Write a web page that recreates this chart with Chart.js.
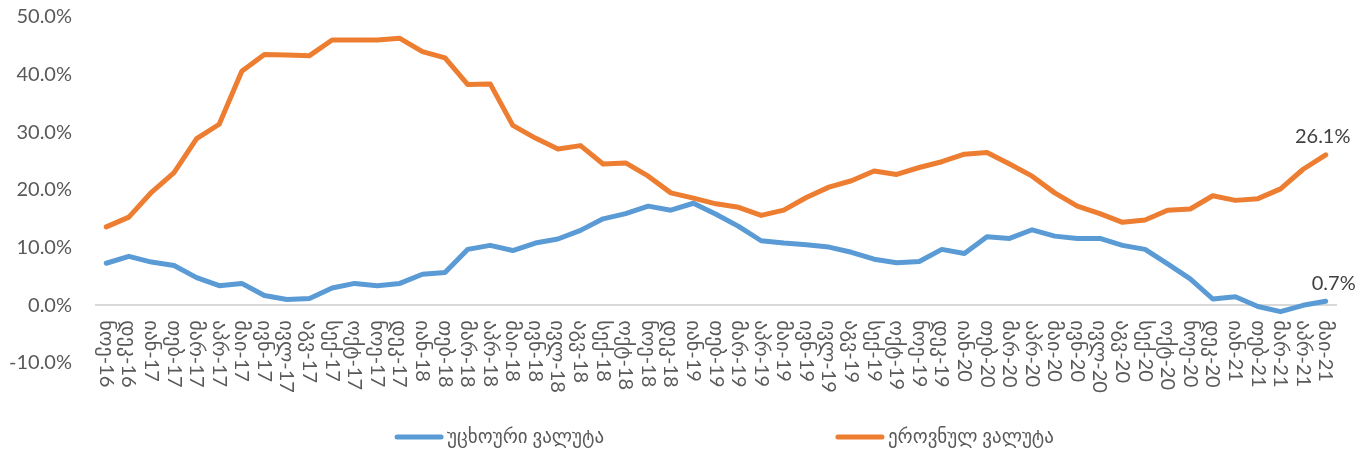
<!DOCTYPE html>
<html>
<head>
<meta charset="utf-8">
<script src="https://cdn.jsdelivr.net/npm/chart.js@4"></script>
<style>
  html, body { margin: 0; padding: 0; background: #fff; }
  #wrap { width: 1367px; height: 459px; }
</style>
</head>
<body>
<div id="wrap"><canvas id="dollarChart" width="1367" height="459"></canvas></div>
<script>
const monthLabels = [
    'ნოე-16', 'დეკ-16',
    'იან-17', 'თებ-17', 'მარ-17', 'აპრ-17', 'მაი-17', 'ივნ-17', 'ივლ-17', 'აგვ-17', 'სექ-17', 'ოქტ-17', 'ნოე-17', 'დეკ-17',
    'იან-18', 'თებ-18', 'მარ-18', 'აპრ-18', 'მაი-18', 'ივნ-18', 'ივლ-18', 'აგვ-18', 'სექ-18', 'ოქტ-18', 'ნოე-18', 'დეკ-18',
    'იან-19', 'თებ-19', 'მარ-19', 'აპრ-19', 'მაი-19', 'ივნ-19', 'ივლ-19', 'აგვ-19', 'სექ-19', 'ოქტ-19', 'ნოე-19', 'დეკ-19',
    'იან-20', 'თებ-20', 'მარ-20', 'აპრ-20', 'მაი-20', 'ივნ-20', 'ივლ-20', 'აგვ-20', 'სექ-20', 'ოქტ-20', 'ნოე-20', 'დეკ-20',
    'იან-21', 'თებ-21', 'მარ-21', 'აპრ-21', 'მაი-21'
];

const foreignCurrency = [
    7.3, 8.5, 7.5, 6.9, 4.8, 3.4, 3.8, 1.7, 1.0, 1.2,
    3.0, 3.8, 3.4, 3.8, 5.4, 5.7, 9.7, 10.4, 9.5, 10.8,
    11.5, 13.0, 15.0, 15.9, 17.2, 16.5, 17.7, 15.8, 13.7, 11.2,
    10.8, 10.5, 10.1, 9.2, 8.0, 7.4, 7.6, 9.7, 9.0, 11.9,
    11.6, 13.1, 12.0, 11.6, 11.6, 10.4, 9.7, 7.2, 4.6, 1.1,
    1.5, -0.2, -1.1, 0.0, 0.7
];

const nationalCurrency = [
    13.6, 15.3, 19.6, 23.0, 28.9, 31.4, 40.6, 43.5, 43.4, 43.3,
    46.0, 46.0, 46.0, 46.3, 44.0, 42.9, 38.3, 38.4, 31.2, 29.0,
    27.1, 27.7, 24.5, 24.7, 22.4, 19.5, 18.6, 17.6, 17.0, 15.6,
    16.5, 18.7, 20.5, 21.6, 23.3, 22.7, 23.9, 24.9, 26.2, 26.5,
    24.5, 22.4, 19.5, 17.2, 15.9, 14.4, 14.8, 16.5, 16.7, 19.0,
    18.2, 18.5, 20.2, 23.6, 26.1
];

const seriesNames = ['უცხოური ვალუტა', 'ეროვნულ ვალუტა'];
const yTicks = [-10, 0, 10, 20, 30, 40, 50];

const BLUE = '#5B9BD5';
const ORANGE = '#ED7D31';
const TEXT = '#595959';
const FONT = "Lato, 'DejaVu Sans', sans-serif";

// x labels rotated clockwise (read top to bottom), hanging from the zero line
const xLabelsPlugin = {
    id: 'xLabels',
    afterDraw(chart) {
        const ctx = chart.ctx;
        const x = chart.scales.x;
        const zeroY = chart.scales.y.getPixelForValue(0);
        ctx.save();
        ctx.fillStyle = TEXT;
        ctx.font = '20px ' + FONT;
        ctx.textAlign = 'left';
        ctx.textBaseline = 'middle';
        monthLabels.forEach(function(label, i) {
            ctx.save();
            ctx.translate(x.getPixelForValue(i), zeroY + 15);
            ctx.rotate(Math.PI / 2);
            ctx.fillText(label, 0, 0);
            ctx.restore();
        });
        ctx.restore();
    }
};

// value labels on the last point of each line
const lastValuePlugin = {
    id: 'lastValue',
    afterDatasetsDraw(chart) {
        const ctx = chart.ctx;
        ctx.save();
        ctx.fillStyle = '#404040';
        ctx.font = '20px ' + FONT;
        ctx.textAlign = 'center';
        ctx.textBaseline = 'middle';
        chart.data.datasets.forEach(function(ds, di) {
            const meta = chart.getDatasetMeta(di);
            const last = meta.data[meta.data.length - 1];
            const v = ds.data[ds.data.length - 1];
            ctx.fillText(v.toFixed(1) + '%', last.x + (di === 0 ? 8 : -3), last.y - 18);
        });
        ctx.restore();
    }
};

// Excel-like legend, widely spaced
const legendPlugin = {
    id: 'wideLegend',
    afterDraw(chart) {
        const ctx = chart.ctx;
        const y = chart.height - 22;
        const starts = [chart.width * 0.289, chart.width * 0.6115];
        const colors = [BLUE, ORANGE];
        ctx.save();
        ctx.font = '19px ' + FONT;
        ctx.textBaseline = 'middle';
        ctx.textAlign = 'left';
        seriesNames.forEach(function(name, i) {
            const x0 = starts[i];
            ctx.strokeStyle = colors[i];
            ctx.lineWidth = 5;
            ctx.lineCap = 'round';
            ctx.beginPath();
            ctx.moveTo(x0 + 2, y);
            ctx.lineTo(x0 + 46, y);
            ctx.stroke();
            ctx.fillStyle = TEXT;
            ctx.fillText(name, x0 + 52, y);
        });
        ctx.restore();
    }
};

document.addEventListener('DOMContentLoaded', function() {
    createDollarizationChart();
});

function createDollarizationChart() {
    const ctx = document.getElementById('dollarChart').getContext('2d');
    new Chart(ctx, {
        type: 'line',
        data: {
            labels: monthLabels,
            datasets: [{
                label: seriesNames[0],
                data: foreignCurrency,
                borderColor: BLUE,
                backgroundColor: BLUE,
                borderWidth: 5,
                pointRadius: 0,
                tension: 0,
                borderJoinStyle: 'round',
                borderCapStyle: 'round'
            }, {
                label: seriesNames[1],
                data: nationalCurrency,
                borderColor: ORANGE,
                backgroundColor: ORANGE,
                borderWidth: 5,
                pointRadius: 0,
                tension: 0,
                borderJoinStyle: 'round',
                borderCapStyle: 'round'
            }]
        },
        options: {
            responsive: false,
            animation: false,
            layout: {
                padding: { top: 17, right: 30, bottom: 96, left: 0 }
            },
            plugins: {
                legend: { display: false },
                tooltip: { enabled: false }
            },
            scales: {
                x: {
                    display: false,
                    offset: true
                },
                y: {
                    min: yTicks[0],
                    max: yTicks[yTicks.length - 1],
                    afterBuildTicks: function(scale) {
                        scale.ticks = yTicks.map(function(v) { return { value: v }; });
                    },
                    afterFit: function(scale) {
                        scale.width = 95;
                        // the label gap should not push the plot down
                        scale.paddingTop = 0;
                        scale.paddingBottom = 0;
                    },
                    border: { display: false },
                    grid: {
                        drawTicks: false,
                        lineWidth: 2,
                        color: function(c) {
                            return c.tick && c.tick.value === 0 ? '#d9d9d9' : 'rgba(0,0,0,0)';
                        }
                    },
                    ticks: {
                        padding: 23,
                        color: TEXT,
                        font: { family: FONT, size: 20 },
                        callback: function(v) { return v.toFixed(1) + '%'; }
                    }
                }
            }
        },
        plugins: [xLabelsPlugin, lastValuePlugin, legendPlugin]
    });
}
</script>
</body>
</html>
